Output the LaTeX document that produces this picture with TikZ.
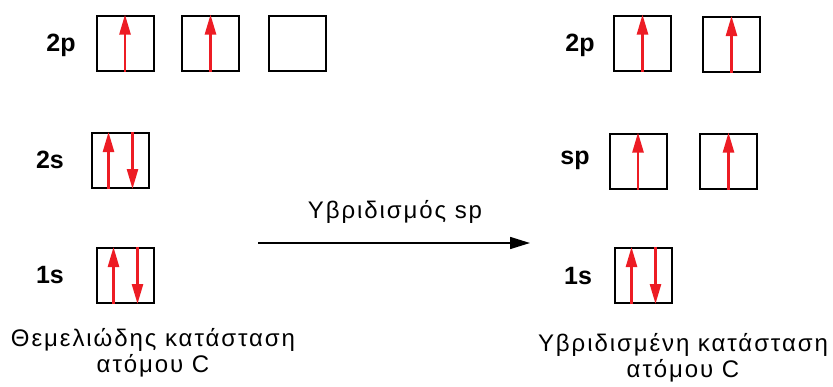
\documentclass[tikz,border=0pt]{standalone}
\usepackage{fontspec}
\setmainfont{Liberation Sans}
\newfontfamily\widesans[LetterSpace=8]{Liberation Sans}
\usetikzlibrary{arrows.meta}
\definecolor{spinred}{RGB}{237,28,36}
\tikzset{
	orb/.style={draw, line width=2pt, minimum width=57pt, minimum height=55pt, inner sep=0pt},
	spin/.style={spinred, line width=2.5pt, -{Triangle[length=20pt,width=11pt]}},
	lvl/.style={font=\fontsize{25}{25}\selectfont\bfseries},
	caption/.style={align=center, font=\widesans\fontsize{24}{26}\selectfont},
}
\begin{document}
\begin{tikzpicture}[x=1pt,y=-1pt]
	\useasboundingbox (0,0) rectangle (833,386);
	% ground state
	\node[lvl] (l2p) at (61,45) {2p};
	\node[lvl] (l2s) at (50,160) {2s};
	\node[lvl] (l1s) at (50,275) {1s};
	\node[orb] (p1) at (125,43) {};
	\node[orb] (p2) at (210.5,43) {};
	\node[orb] (p3) at (297.5,43) {};
	\node[orb] (s2) at (120.5,160.5) {};
	\node[orb] (s1) at (125.5,275.5) {};
	\draw[spin] (p1.south) -- (p1.north);
	\draw[spin] (p2.south) -- (p2.north);
	\draw[spin] ([xshift=-12pt]s2.south) -- ([xshift=-12pt]s2.north);
	\draw[spin] ([xshift=12pt]s2.north) -- ([xshift=12pt]s2.south);
	\draw[spin] ([xshift=-12pt]s1.south) -- ([xshift=-12pt]s1.north);
	\draw[spin] ([xshift=12pt]s1.north) -- ([xshift=12pt]s1.south);
	\node[caption] (ground) at (153,353) {Θεμελιώδης κατάσταση\\ατόμου C};
	% hybridisation
	\coordinate (from) at (258,243);
	\coordinate (to) at (530,243);
	\draw[line width=1.6pt, -{Triangle[length=20pt,width=12pt]}] (from) -- (to);
	\node[font=\widesans\fontsize{24}{24}\selectfont] (hyb) at (395,212) {Υβριδισμός sp};
	% hybridised state
	\node[lvl] (r2p) at (580,45) {2p};
	\node[lvl] (rsp) at (575,160) {sp};
	\node[lvl] (r1s) at (578,276) {1s};
	\node[orb] (rp1) at (642.5,43) {};
	\node[orb] (rp2) at (731.5,44.5) {};
	\node[orb] (sp1) at (638,161) {};
	\node[orb] (sp2) at (728.5,161) {};
	\node[orb] (rs1) at (643.5,275.5) {};
	\draw[spin] (rp1.south) -- (rp1.north);
	\draw[spin] (rp2.south) -- (rp2.north);
	\draw[spin] (sp1.south) -- (sp1.north);
	\draw[spin] (sp2.south) -- (sp2.north);
	\draw[spin] ([xshift=-12pt]rs1.south) -- ([xshift=-12pt]rs1.north);
	\draw[spin] ([xshift=12pt]rs1.north) -- ([xshift=12pt]rs1.south);
	\node[caption] (hybrid) at (683,358) {Υβριδισμένη κατάσταση\\ατόμου C};
\end{tikzpicture}
\end{document}
